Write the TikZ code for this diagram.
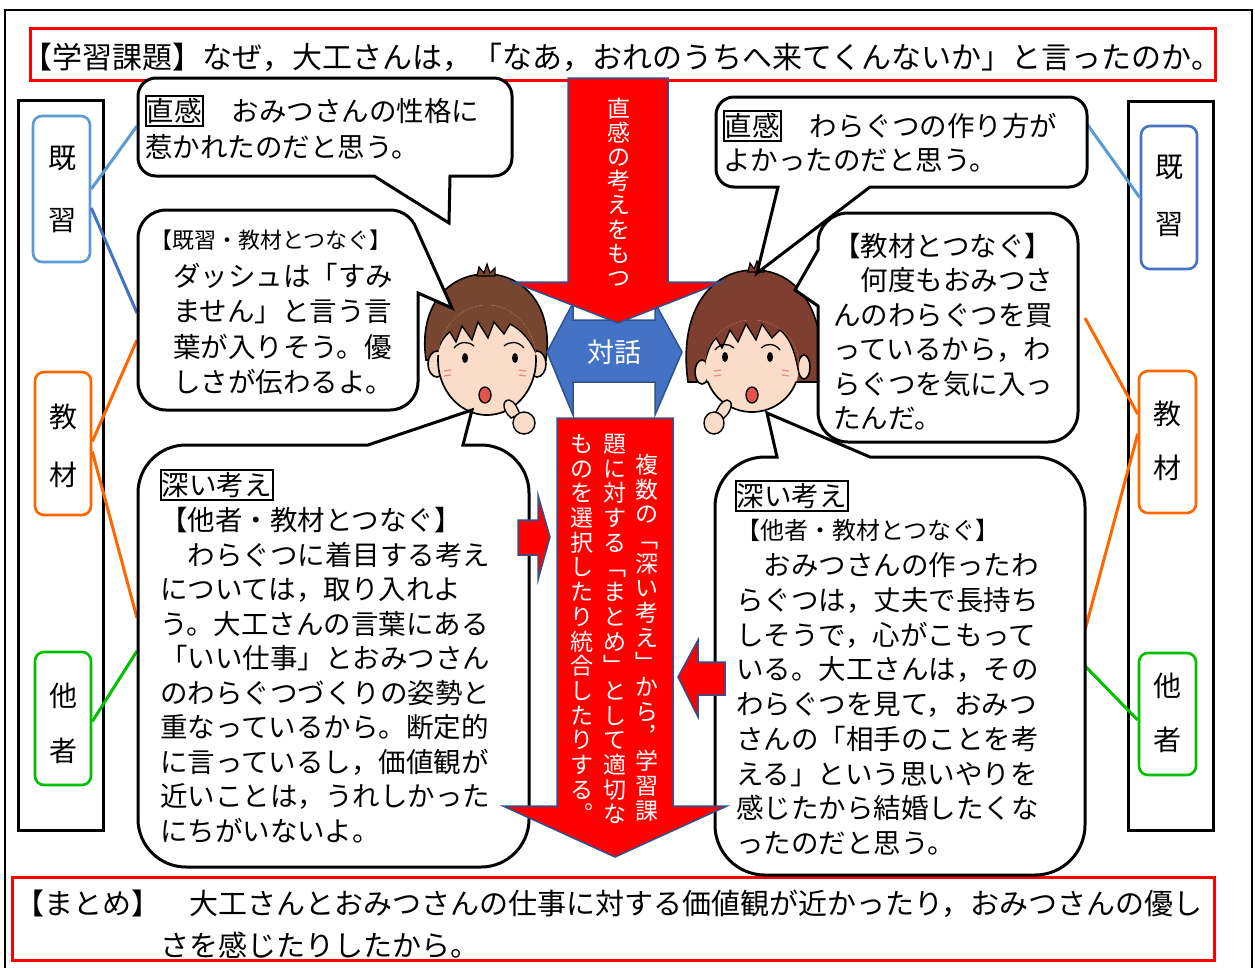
\documentclass[tikz,border=0pt]{standalone}
\usepackage{fontspec}
\setmainfont{Noto Sans CJK JP}
\usetikzlibrary{calc}

\definecolor{alertred}{HTML}{FF0000}
\definecolor{edgeblue}{HTML}{2F528F}
\definecolor{talkblue}{HTML}{4472C4}
\definecolor{priorA}{HTML}{5B9BD5}
\definecolor{priorB}{HTML}{4472C4}
\definecolor{material}{HTML}{FF6600}
\definecolor{others}{HTML}{00C000}
\definecolor{hairboy}{HTML}{774631}
\definecolor{hairgirl}{HTML}{7E3F30}
\definecolor{skin}{HTML}{FADCC8}
\definecolor{cheek}{HTML}{E48C80}
\definecolor{mouthred}{HTML}{E0544C}

% vertical (top-to-bottom) stacking of characters
\newdimen\tateH
\newdimen\tateD
\def\tateend{\relax\relax}
\def\tateloop#1{\ifx#1\tateend\else\hbox to 1em{\hss\vrule width 0pt height \tateH depth \tateD\relax #1\hss}\expandafter\tateloop\fi}
\newcommand\tate[2]{\tateH=0.86\dimexpr #1\relax \tateD=0.14\dimexpr #1\relax \vbox{\offinterlineskip\tateloop#2\tateend}}

\tikzset{
  redbox/.style={draw=alertred, line width=3pt},
  colbox/.style={draw=black, line width=3pt},
  tagbox/.style={draw=#1, line width=2.6pt, rounded corners=9pt, fill=white, inner sep=0pt},
  taglbl/.style={inner sep=0pt, font=\fontsize{28}{30}\selectfont},
  conn/.style={draw=#1, line width=3pt},
  bubble/.style={draw=black, fill=white, line width=3pt, line join=miter, miter limit=4},
  bt/.style={anchor=base west, inner sep=0pt, font=\fontsize{27.5}{33}\selectfont},
  kanbox/.style={draw=black, line width=1.8pt, inner sep=1pt, anchor=west,
    text height=24.2pt, text depth=3.3pt, font=\fontsize{27.5}{33}\selectfont},
  bigarrow/.style={fill=alertred, draw=edgeblue, line width=1.5pt, line join=miter},
  talkarrow/.style={fill=talkblue, draw=edgeblue, line width=1.5pt, line join=miter},
  vt/.style={anchor=north, inner sep=0pt, text=white, font=\fontsize{23}{24}\selectfont},
  faceline/.style={draw=black, line width=1.6pt},
}

\begin{document}
\begin{tikzpicture}[x=1pt,y=-1pt]
\useasboundingbox (0,0) rectangle (1255,967);
\fill[white] (0,0) rectangle (1255,967);

% outer frame
\draw[line width=2.8pt] (5,10) rectangle (1252,990);

% question and summary
\draw[redbox] (30,28) rectangle (1215,80);
\node[anchor=base, inner sep=0pt, font=\fontsize{30}{36}\selectfont] (title) at (622,68.4)
  {【学習課題】なぜ，大工さんは，「なあ，おれのうちへ来てくんないか」と言ったのか。};
\draw[redbox] (12,877) rectangle (1214,960);
\node[bt, font=\fontsize{29}{34}\selectfont] (sum1) at (15,914)
  {【まとめ】　大工さんとおみつさんの仕事に対する価値観が近かったり，おみつさんの優し};
\node[bt, font=\fontsize{29}{34}\selectfont] (sum2) at (160,956) {さを感じたりしたから。};

% side columns
\draw[colbox] (18,100) rectangle (103,830);
\draw[colbox] (1128,101) rectangle (1213,830);

\node[tagbox=priorA, minimum width=57pt, minimum height=146pt] (tL1) at (61.5,189) {};
\node[tagbox=material, minimum width=56pt, minimum height=143pt] (tL2) at (63,443.5) {};
\node[tagbox=others, minimum width=56pt, minimum height=133pt] (tL3) at (63,718.5) {};
\node[tagbox=priorB, minimum width=56pt, minimum height=143pt] (tR1) at (1169,197.5) {};
\node[tagbox=material, minimum width=57pt, minimum height=142pt] (tR2) at (1167.5,442) {};
\node[tagbox=others, minimum width=57pt, minimum height=122pt] (tR3) at (1167.5,714) {};

\node[taglbl] (tL1a) at (62,158) {既};
\node[taglbl] (tL1b) at (62,221) {習};
\node[taglbl] (tL2a) at (63,417) {教};
\node[taglbl] (tL2b) at (63,475) {材};
\node[taglbl] (tL3a) at (63,696) {他};
\node[taglbl] (tL3b) at (63,751) {者};
\node[taglbl] (tR1a) at (1169,167) {既};
\node[taglbl] (tR1b) at (1169,225) {習};
\node[taglbl] (tR2a) at (1167,414) {教};
\node[taglbl] (tR2b) at (1167,468) {材};
\node[taglbl] (tR3a) at (1167,686) {他};
\node[taglbl] (tR3b) at (1167,740) {者};

% attachment points on the speech bubbles
\coordinate (pL1) at (137,126);
\coordinate (pL2a) at (137,313);
\coordinate (pL2b) at (137,340);
\coordinate (pL3a) at (137,618);
\coordinate (pL3b) at (137,651);
\coordinate (pR1) at (1087,124);
\coordinate (pR2) at (1085,318);
\coordinate (pR3a) at (1085,630);
\coordinate (pR3b) at (1085,666);

\draw[conn=priorA] (tL1.east) -- (pL1);
\draw[conn=priorB] ([yshift=-19pt]tL1.east) -- (pL2a);
\draw[conn=material] ([yshift=2pt]tL2.east) -- (pL2b);
\draw[conn=material] ([yshift=-8pt]tL2.east) -- (pL3a);
\draw[conn=others] ([yshift=-3pt]tL3.east) -- (pL3b);
\draw[conn=priorA] (pR1) -- (tR1.west);
\draw[conn=material] (pR2) -- ([yshift=28pt]tR2.west);
\draw[conn=material] ([yshift=8pt]tR2.west) -- (pR3a);
\draw[conn=others] (pR3b) -- ([yshift=-6pt]tR3.west);

% ---------- boy ----------
\begin{scope}[shift={(486,352)}]
  \filldraw[fill=hairboy, faceline] (-60,8) .. controls (-68,-48) and (-36,-78) .. (0,-78)
      .. controls (36,-78) and (68,-48) .. (60,8) -- cycle;
  \filldraw[fill=hairboy, draw=black, line width=1.2pt] (-9,-76) -- (-7,-85) -- (-2,-79) -- (1,-88)
      -- (4,-79) -- (9,-84) -- (9,-76) -- cycle;
  \filldraw[fill=skin, faceline] (-49,12) ellipse [x radius=9, y radius=13];
  \filldraw[fill=skin, faceline] (51,12) ellipse [x radius=9, y radius=13];
  \fill[skin] (1,8) ellipse [x radius=49, y radius=55];
  \begin{scope}
    \clip (1,8) ellipse [x radius=49, y radius=55];
    \fill[hairboy] (-62,-90) -- (-62,6) -- (-50,6) .. controls (-47,-8) and (-42,-16) .. (-36,-20)
      -- (-30,-10) -- (-24,-26) -- (-14,-12) -- (-8,-30) -- (2,-14) -- (8,-30) -- (18,-18) -- (24,-28)
      .. controls (36,-22) and (46,-10) .. (52,6) -- (64,6) -- (64,-90) -- cycle;
    \draw[line width=1.3pt] (-50,6) .. controls (-47,-8) and (-42,-16) .. (-36,-20)
      -- (-30,-10) -- (-24,-26) -- (-14,-12) -- (-8,-30) -- (2,-14) -- (8,-30) -- (18,-18) -- (24,-28)
      .. controls (36,-22) and (46,-10) .. (52,6);
  \end{scope}
  \draw[line width=1.7pt] (1,8) ++(-5:49 and 55) arc[start angle=-5, end angle=185, x radius=49, y radius=55];
  \draw[line width=1.3pt] (-32,-4) .. controls (-26,-11) and (-18,-11) .. (-12,-6);
  \draw[line width=1.3pt] (18,-6) .. controls (24,-11) and (32,-11) .. (38,-4);
  \fill (-21,6) ellipse [x radius=3, y radius=5];
  \fill (29,6) ellipse [x radius=3, y radius=5];
  \draw[cheek, line width=1.2pt] (-42,19) -- (-35,18) (-42,24) -- (-35,23) (33,18) -- (40,19) (33,23) -- (40,24);
  \filldraw[fill=mouthred, draw=black, line width=1.3pt] (-1,43) ellipse [x radius=6, y radius=8];
  \filldraw[fill=skin, draw=black, line width=1.4pt] (25,66) .. controls (16,58) and (16,48) .. (23,48)
      .. controls (29,49) and (31,56) .. (34,62) -- cycle;
  \filldraw[fill=skin, draw=black, line width=1.4pt] (38,71) ellipse [x radius=11, y radius=11];
\end{scope}

% ---------- girl ----------
\begin{scope}[shift={(752,352)}]
  \filldraw[fill=hairgirl, faceline] (-64,30) .. controls (-74,-40) and (-42,-82) .. (2,-82)
      .. controls (46,-82) and (76,-40) .. (68,30) -- cycle;
  \filldraw[fill=hairgirl, draw=black, line width=1.2pt] (-4,-80) -- (-2,-89) -- (2,-83) -- (5,-91)
      -- (8,-83) -- (12,-87) -- (12,-80) -- cycle;
  \filldraw[fill=skin, faceline] (-50,20) ellipse [x radius=7, y radius=12];
  \filldraw[fill=skin, faceline] (52,15) ellipse [x radius=6, y radius=12];
  \fill[skin] (0,14) ellipse [x radius=47, y radius=46];
  \begin{scope}
    \clip (0,14) ellipse [x radius=47, y radius=46];
    \fill[hairgirl] (-60,-90) -- (-60,30) -- (-50,30) .. controls (-48,10) and (-44,-6) .. (-36,-14)
      -- (-30,-4) -- (-22,-22) -- (-14,-10) -- (-6,-28) -- (4,-12) -- (10,-28) -- (20,-14) -- (28,-22)
      .. controls (38,-14) and (44,0) .. (48,30) -- (60,30) -- (60,-90) -- cycle;
    \draw[line width=1.3pt] (-50,30) .. controls (-48,10) and (-44,-6) .. (-36,-14)
      -- (-30,-4) -- (-22,-22) -- (-14,-10) -- (-6,-28) -- (4,-12) -- (10,-28) -- (20,-14) -- (28,-22)
      .. controls (38,-14) and (44,0) .. (48,30);
  \end{scope}
  \draw[line width=1.7pt] (0,14) ++(20:47 and 46) arc[start angle=20, end angle=160, x radius=47, y radius=46];
  \draw[line width=1.3pt] (-37,-2) .. controls (-32,-9) and (-23,-9) .. (-18,-4);
  \draw[line width=1.3pt] (9,-4) .. controls (14,-9) and (23,-9) .. (28,-2);
  \fill (-27,5) ellipse [x radius=3, y radius=5];
  \fill (18,5) ellipse [x radius=3, y radius=5];
  \draw[cheek, line width=1.2pt] (-38,19) -- (-31,18) (-38,24) -- (-31,23) (30,18) -- (37,19) (30,23) -- (37,24);
  \filldraw[fill=mouthred, draw=black, line width=1.3pt] (0,43) ellipse [x radius=6, y radius=8];
  \filldraw[fill=skin, draw=black, line width=1.4pt] (-28,66) .. controls (-19,58) and (-19,48) .. (-25,48)
      .. controls (-31,49) and (-34,56) .. (-37,62) -- cycle;
  \filldraw[fill=skin, draw=black, line width=1.4pt] (-38,71) ellipse [x radius=10, y radius=11];
\end{scope}

% ---------- speech bubbles ----------
\draw[bubble] (156,78) -- (494,78) arc[start angle=-90, end angle=0, radius=18] -- (512,158)
  arc[start angle=0, end angle=90, radius=18] -- (450,176) -- (449,223) -- (374,176) -- (156,176)
  arc[start angle=90, end angle=180, radius=18] -- (138,96) arc[start angle=180, end angle=270, radius=18] -- cycle;

\draw[bubble] (166,210) -- (390,210) arc[start angle=-90, end angle=-30, radius=28] -- (452,308) -- (418,293)
  -- (418,382) arc[start angle=0, end angle=90, radius=28] -- (166,410)
  arc[start angle=90, end angle=180, radius=28] -- (138,238) arc[start angle=180, end angle=270, radius=28] -- cycle;

\draw[bubble] (186,445) -- (368,445) -- (472,410) -- (463,445) -- (481,445)
  arc[start angle=-90, end angle=0, radius=48] -- (529,819) arc[start angle=0, end angle=90, radius=48] -- (186,867)
  arc[start angle=90, end angle=180, radius=48] -- (138,493) arc[start angle=180, end angle=270, radius=48] -- cycle;

\draw[bubble] (734,97) -- (1069,97) arc[start angle=-90, end angle=0, radius=18] -- (1087,169)
  arc[start angle=0, end angle=90, radius=18] -- (870,187) -- (757,273) -- (778,187) -- (734,187)
  arc[start angle=90, end angle=180, radius=18] -- (716,115) arc[start angle=180, end angle=270, radius=18] -- cycle;

\draw[bubble] (848,213) -- (1048,213) arc[start angle=-90, end angle=0, radius=30] -- (1078,412)
  arc[start angle=0, end angle=90, radius=30] -- (848,442) arc[start angle=90, end angle=180, radius=30]
  -- (818,306) -- (795,290) -- (818,250) -- (818,243) arc[start angle=180, end angle=270, radius=30] -- cycle;

\draw[bubble] (765,457) -- (777,457) -- (767,413) -- (870,457) -- (1035,457)
  arc[start angle=-90, end angle=0, radius=50] -- (1085,825) arc[start angle=0, end angle=90, radius=50] -- (765,875)
  arc[start angle=90, end angle=180, radius=50] -- (715,507) arc[start angle=180, end angle=270, radius=50] -- cycle;

% ---------- central arrows ----------
\draw[talkarrow] (547,352) -- (573,303) -- (573,320) -- (655,320) -- (655,303) -- (682,352)
  -- (655,415) -- (655,382) -- (573,382) -- (573,415) -- cycle;
\node[inner sep=0pt, text=white, font=\fontsize{27}{30}\selectfont] (dlg) at (614,352) {対話};

\draw[bigarrow] (568,78) -- (668,78) -- (668,282) -- (722,282) -- (618,323) -- (513,282) -- (568,282) -- cycle;
\node[vt] (a1t) at (619,96) {\tate{24.2pt}{直感の考えをもつ}};

\draw[bigarrow] (557,418) -- (673,418) -- (673,806) -- (727,806) -- (615,857) -- (503,806) -- (557,806) -- cycle;
\node[vt] (a2c1) at (647,452) {\tate{24.7pt}{複数の﹁深い考え﹂から︐学習課}};
\node[vt] (a2c2) at (615,431) {\tate{24.7pt}{題に対する﹁まとめ﹂として適切な}};
\node[vt] (a2c3) at (582,431) {\tate{24.7pt}{ものを選択したり統合したりする︒}};

\draw[bigarrow] (518,520) -- (538,520) -- (538,495) -- (550,537) -- (538,580) -- (538,555) -- (518,555) -- cycle;
\draw[bigarrow] (725,662) -- (698,662) -- (698,640) -- (678,677) -- (698,717) -- (698,695) -- (725,695) -- cycle;

% ---------- bubble texts ----------
\node[kanbox] (lk1) at (145,111) {直感};
\node[bt] (lt1a) at (lk1.base east) {　おみつさんの性格に};
\node[bt] (lt1b) at (145,157.5) {惹かれたのだと思う。};

\node[bt, font=\fontsize{22}{26}\selectfont] (lt2h) at (150,248.4) {【既習・教材とつなぐ】};
\foreach \ltext [count=\i from 0] in {ダッシュは「すみ,ません」と言う言,葉が入りそう。優,しさが伝わるよ。}
  \node[bt] (lt2-\i) at (173,286+35.5*\i) {\ltext};

\node[kanbox] (lk3) at (160,485) {深い考え};
\foreach \ltext [count=\i from 0] in {【他者・教材とつなぐ】,　わらぐつに着目する考え,については，取り入れよ,う。大工さんの言葉にある,「いい仕事」とおみつさん,のわらぐつづくりの姿勢と,重なっているから。断定的,に言っているし，価値観が,近いことは，うれしかった,にちがいないよ。}
  \node[bt] (lt3-\i) at (160,530.5+34.5*\i) {\ltext};

\node[kanbox] (rk1) at (723,126) {直感};
\node[bt] (rt1a) at (rk1.base east) {　わらぐつの作り方が};
\node[bt] (rt1b) at (723,170.5) {よかったのだと思う。};

\foreach \ltext [count=\i from 0] in {【教材とつなぐ】,　何度もおみつさ,んのわらぐつを買,っているから，わ,らぐつを気に入っ,たんだ。}
  \node[bt] (rt2-\i) at (833,256.5+34.4*\i) {\ltext};

\node[kanbox] (rk3) at (735,496) {深い考え};
\node[bt, font=\fontsize{24}{28}\selectfont] (rt3h) at (736,539.1) {【他者・教材とつなぐ】};
\foreach \ltext [count=\i from 0] in {　おみつさんの作ったわ,らぐつは，丈夫で長持ち,しそうで，心がこもって,いる。大工さんは，その,わらぐつを見て，おみつ,さんの「相手のことを考,える」という思いやりを,感じたから結婚したくな,ったのだと思う。}
  \node[bt] (rt3-\i) at (736,575.5+34.75*\i) {\ltext};

\end{tikzpicture}
\end{document}
